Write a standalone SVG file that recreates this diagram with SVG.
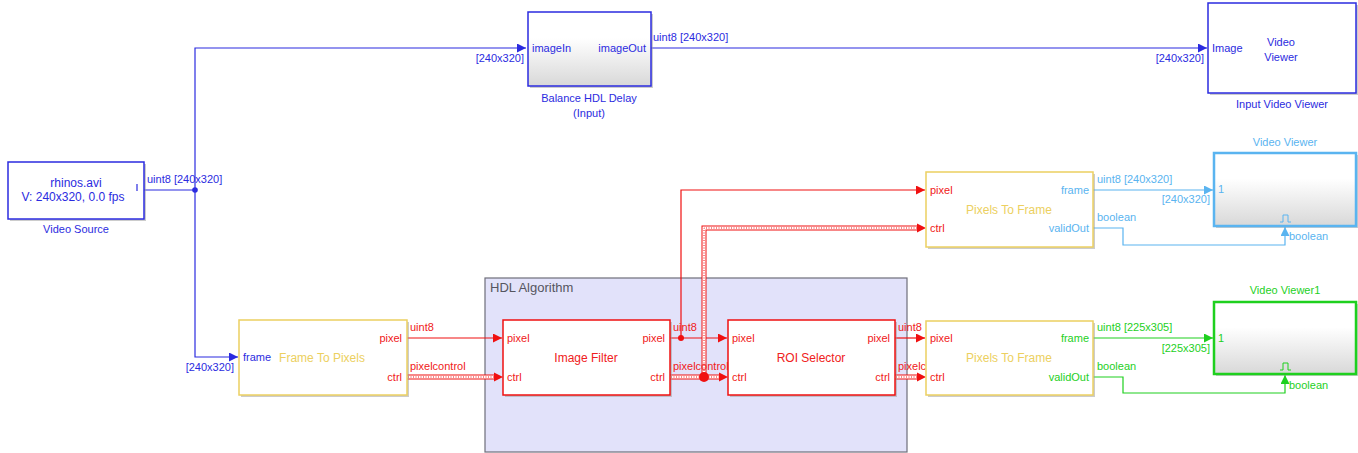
<svg xmlns="http://www.w3.org/2000/svg" width="1358" height="453" viewBox="0 0 1358 453">
<defs>
<linearGradient id="gv" x1="0" y1="0" x2="0" y2="1"><stop offset="0" stop-color="#ffffff"/><stop offset="0.35" stop-color="#ffffff"/><stop offset="1" stop-color="#d8d8d8"/></linearGradient>
<marker id="ab" viewBox="0 0 10 10" refX="10" refY="5" markerWidth="9" markerHeight="9" markerUnits="userSpaceOnUse" orient="auto"><path d="M0,0L10,5L0,10z" fill="#2b2be0"/></marker>
<marker id="ar" viewBox="0 0 10 10" refX="10" refY="5" markerWidth="9" markerHeight="9" markerUnits="userSpaceOnUse" orient="auto"><path d="M0,0L10,5L0,10z" fill="#f01010"/></marker>
<marker id="al" viewBox="0 0 10 10" refX="10" refY="5" markerWidth="9" markerHeight="9" markerUnits="userSpaceOnUse" orient="auto"><path d="M0,0L10,5L0,10z" fill="#5ab4f0"/></marker>
<marker id="ag" viewBox="0 0 10 10" refX="10" refY="5" markerWidth="9" markerHeight="9" markerUnits="userSpaceOnUse" orient="auto"><path d="M0,0L10,5L0,10z" fill="#1ed01e"/></marker>
</defs>
<style>
text{font-family:"Liberation Sans",Arial,sans-serif;font-size:11px}
.b{fill:#2b2be0}.r{fill:#f02020}.y{fill:#ecd060}.l{fill:#5ab4f0}.g{fill:#1ed01e}
.sh{fill:#9a9a9a;opacity:0.5}
.wb{fill:none;stroke-width:1}
.bl{stroke:#2b2be0;fill:none;stroke-width:1.2}
.rl{stroke:#f01010;fill:none;stroke-width:1.2}
.ll{stroke:#5ab4f0;fill:none;stroke-width:1.2}
.gl{stroke:#1ed01e;fill:none;stroke-width:1.2}
.bus1{stroke:#f01010;fill:none;stroke-width:5}
.bus2{stroke:#ffffff;fill:none;stroke-width:3}
.bus3{stroke:#f01010;fill:none;stroke-width:1;stroke-dasharray:1 1.5}
.m{text-anchor:middle}.e{text-anchor:end}
</style>

<g id="hdl-algorithm">
<rect x="485" y="278" width="422" height="174" fill="#e2e2fa" stroke="#6e6e7a" stroke-width="1.2"/>
<text x="490" y="292" style="font-size:13px" fill="#555560">HDL Algorithm</text>
</g>

<g id="connectors">
<!-- blue -->
<path class="bl" d="M144,190H195V48H526" marker-end="url(#ab)"/>
<path class="bl" d="M195,190V357H238" marker-end="url(#ab)"/>
<path class="bl" d="M651,48H1207" marker-end="url(#ab)"/>
<circle cx="195" cy="190" r="2.8" fill="#2b2be0"/>
<text x="147" y="183" class="b">uint8 [240x320]</text>
<text x="524" y="62" class="b e">[240x320]</text>
<text x="653" y="41" class="b">uint8 [240x320]</text>
<text x="1204" y="62" class="b e">[240x320]</text>
<text x="234" y="371" class="b e">[240x320]</text>
<!-- red -->
<path class="rl" d="M407,338H502" marker-end="url(#ar)"/>
<text x="410" y="331" class="r">uint8</text>
<path class="bus1" d="M407,377H496"/><path class="bus2" d="M407,377H496"/><path class="bus3" d="M408,377H496"/>
<path d="M494,372.5L503,377L494,381.5z" fill="#f01010"/>
<text x="410" y="370" class="r">pixelcontrol</text>

<path class="rl" d="M670,338H727" marker-end="url(#ar)"/>
<path class="rl" d="M681,338V190H925" marker-end="url(#ar)"/>
<circle cx="681" cy="338" r="3" fill="#f01010"/>
<text x="673" y="331" class="r">uint8</text>
<path class="bus1" d="M670,377H721"/><path class="bus2" d="M670,377H721"/><path class="bus3" d="M671,377H721"/>
<path class="bus1" d="M704,377V228H919"/><path class="bus2" d="M704,377V228H919"/><path class="bus3" d="M704,376V228H919"/>
<path d="M719,372.5L728,377L719,381.5z" fill="#f01010"/>
<path d="M917,223.5L926,228L917,232.5z" fill="#f01010"/>
<circle cx="704" cy="377" r="5" fill="#f01010"/>
<text x="673" y="370" class="r">pixelcontrol</text>

<path class="rl" d="M895,338H925" marker-end="url(#ar)"/>
<text x="898" y="331" class="r">uint8</text>
<path class="bus1" d="M895,377H919"/><path class="bus2" d="M895,377H919"/><path class="bus3" d="M896,377H919"/>
<path d="M917,372.5L926,377L917,381.5z" fill="#f01010"/>
<text x="898" y="370" class="r">pixelcontrol</text>
<!-- light blue -->
<path class="ll" d="M1093,190H1213" marker-end="url(#al)"/>
<text x="1097" y="183" class="l">uint8 [240x320]</text>
<text x="1210" y="203" class="l e">[240x320]</text>
<path class="ll" d="M1093,228H1123V245H1285V227" marker-end="url(#al)"/>
<text x="1097" y="221" class="l">boolean</text>
<text x="1289" y="240" class="l">boolean</text>
<!-- green -->
<path class="gl" d="M1093,338H1213" marker-end="url(#ag)"/>
<text x="1097" y="331" class="g">uint8 [225x305]</text>
<text x="1210" y="352" class="g e">[225x305]</text>
<path class="gl" d="M1093,377H1123V393H1285V375" marker-end="url(#ag)"/>
<text x="1097" y="370" class="g">boolean</text>
<text x="1289" y="389" class="g">boolean</text>
</g>

<g id="video-source">
<rect x="10" y="164" width="136" height="57" class="sh"/>
<rect x="8" y="162" width="136" height="57" fill="#fff" stroke="#2b2be0" stroke-width="1.5"/>
<text x="76" y="187" class="b m" style="font-size:12px">rhinos.avi</text>
<text x="73" y="201" class="b m" style="font-size:12px">V: 240x320, 0.0 fps</text>
<path d="M137,184V191" stroke="#2b2be0" stroke-width="1.2"/>
<text x="76" y="233" class="b m">Video Source</text>
</g>

<g id="balance-hdl-delay">
<rect x="530" y="14" width="123" height="74" class="sh"/>
<rect x="528" y="12" width="123" height="74" fill="url(#gv)" stroke="#2b2be0" stroke-width="1.5"/>
<text x="532" y="52" class="b">imageIn</text>
<text x="646" y="52" class="b e">imageOut</text>
<text x="589" y="102" class="b m">Balance HDL Delay</text>
<text x="589" y="117" class="b m">(Input)</text>
</g>

<g id="input-video-viewer">
<rect x="1210" y="5" width="149" height="90" class="sh"/>
<rect x="1208" y="3" width="148" height="90" fill="#fff" stroke="#2b2be0" stroke-width="1.5"/>
<text x="1212" y="52" class="b">Image</text>
<text x="1281" y="46" class="b m">Video</text>
<text x="1281" y="61" class="b m">Viewer</text>
<text x="1282" y="108" class="b m">Input Video Viewer</text>
</g>

<g id="frame-to-pixels">
<rect x="241" y="322" width="168" height="75" class="sh"/>
<rect x="239" y="320" width="168" height="75" fill="#fff" stroke="#ecd060" stroke-width="1.5"/>
<text x="243" y="361" class="b">frame</text>
<text x="322" y="362" class="y m" style="font-size:12px">Frame To Pixels</text>
<text x="402" y="342" class="r e">pixel</text>
<text x="402" y="381" class="r e">ctrl</text>
</g>

<g id="image-filter">
<rect x="505" y="322" width="167" height="75" class="sh"/>
<rect x="503" y="320" width="167" height="75" fill="#fff" stroke="#f01010" stroke-width="1.5"/>
<text x="507" y="342" class="r">pixel</text>
<text x="507" y="381" class="r">ctrl</text>
<text x="586" y="362" class="r m" style="font-size:12px">Image Filter</text>
<text x="665" y="342" class="r e">pixel</text>
<text x="665" y="381" class="r e">ctrl</text>
</g>

<g id="roi-selector">
<rect x="730" y="322" width="167" height="75" class="sh"/>
<rect x="728" y="320" width="167" height="75" fill="#fff" stroke="#f01010" stroke-width="1.5"/>
<text x="732" y="342" class="r">pixel</text>
<text x="732" y="381" class="r">ctrl</text>
<text x="811" y="362" class="r m" style="font-size:12px">ROI Selector</text>
<text x="890" y="342" class="r e">pixel</text>
<text x="890" y="381" class="r e">ctrl</text>
</g>

<g id="pixels-to-frame-1">
<rect x="928" y="174" width="167" height="75" class="sh"/>
<rect x="926" y="172" width="167" height="75" fill="#fff" stroke="#ecd060" stroke-width="1.5"/>
<text x="930" y="194" class="r">pixel</text>
<text x="930" y="232" class="r">ctrl</text>
<text x="1009" y="214" class="y m" style="font-size:12px">Pixels To Frame</text>
<text x="1089" y="194" class="l e">frame</text>
<text x="1089" y="232" class="l e">validOut</text>
</g>

<g id="pixels-to-frame-2">
<rect x="928" y="323" width="167" height="74" class="sh"/>
<rect x="926" y="321" width="167" height="74" fill="#fff" stroke="#ecd060" stroke-width="1.5"/>
<text x="930" y="342" class="r">pixel</text>
<text x="930" y="381" class="r">ctrl</text>
<text x="1009" y="362" class="y m" style="font-size:12px">Pixels To Frame</text>
<text x="1089" y="342" class="g e">frame</text>
<text x="1089" y="381" class="g e">validOut</text>
</g>

<g id="video-viewer">
<rect x="1216" y="155" width="143" height="73" class="sh"/>
<rect x="1214" y="153" width="142" height="73" fill="url(#gv)" stroke="#5ab4f0" stroke-width="2.5"/>
<text x="1218" y="193" class="l">1</text>
<path d="M1280,222H1283V215H1288V222H1291" fill="none" stroke="#5ab4f0" stroke-width="1"/>
<text x="1285" y="146" class="l m">Video Viewer</text>
</g>

<g id="video-viewer1">
<rect x="1216" y="304" width="143" height="72" class="sh"/>
<rect x="1214" y="302" width="142" height="72" fill="url(#gv)" stroke="#1ed01e" stroke-width="2.5"/>
<text x="1218" y="342" class="g">1</text>
<path d="M1280,370H1283V363H1288V370H1291" fill="none" stroke="#1ed01e" stroke-width="1"/>
<text x="1285" y="294" class="g m">Video Viewer1</text>
</g>
</svg>
